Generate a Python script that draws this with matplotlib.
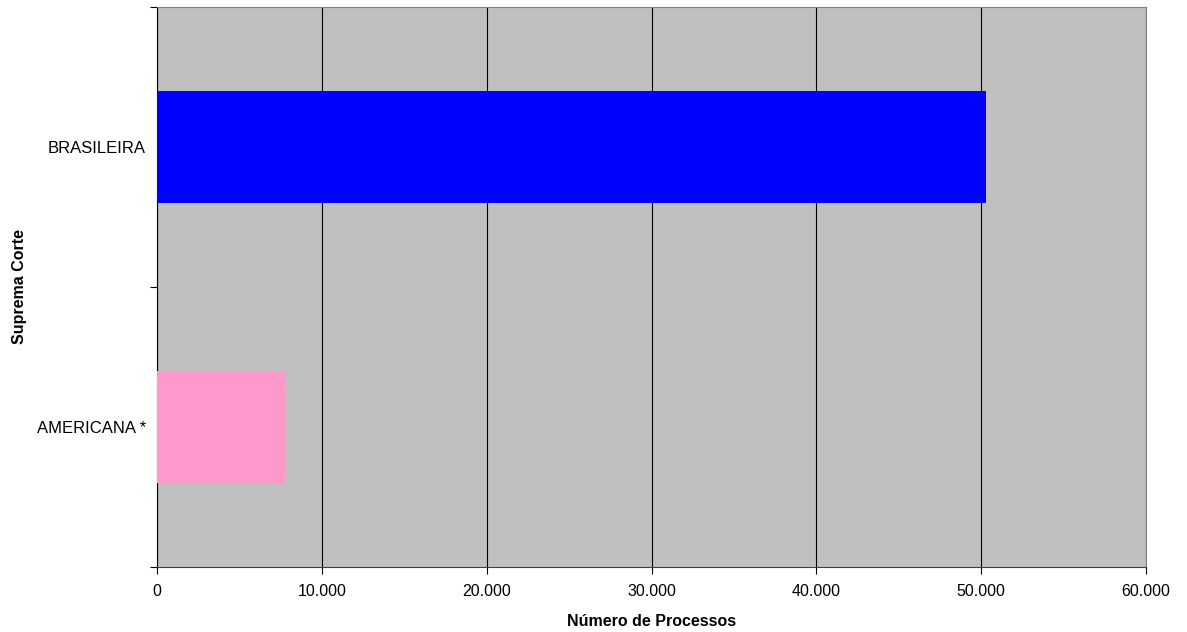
import matplotlib.pyplot as plt
from matplotlib.ticker import FuncFormatter, FixedLocator

plt.rcParams['font.family'] = ['Liberation Sans', 'DejaVu Sans']

# Supreme court case counts
cortes = ["AMERICANA *", "BRASILEIRA"]
processos = [7800, 50300]
cores = ["#FF99CC", "#0000FF"]

fig = plt.figure(figsize=(11.87, 6.32), dpi=100)
ax = fig.add_axes([157 / 1187, 1 - 567 / 632, 989 / 1187, 560 / 632])
ax.set_facecolor("#C0C0C0")

pos = list(range(len(cortes)))
ax.barh(pos, processos, height=0.4, color=cores, zorder=3)

ax.set_xlim(0, 60000)
ax.set_ylim(-0.5, len(cortes) - 0.5)
ax.set_xticks(range(0, 60001, 10000))
ax.xaxis.set_major_formatter(FuncFormatter(lambda v, p: f"{int(v):,}".replace(",", ".")))
ax.grid(axis="x", color="black", linewidth=0.8, zorder=1)

# category labels at bar centres, tick marks between categories
ax.set_yticks(pos)
ax.set_yticklabels(cortes)
ax.yaxis.set_minor_locator(FixedLocator([-0.5, 0.5, 1.5]))
ax.tick_params(axis="y", which="major", length=0, pad=8, labelsize=12)
ax.tick_params(axis="y", which="minor", length=5, width=0.8, direction="out")
ax.tick_params(axis="x", length=5, width=0.8, labelsize=11.5, pad=7)

for side in ["top", "right"]:
    ax.spines[side].set_color("#808080")
ax.spines["bottom"].set_color("#404040")
ax.spines["left"].set_color("black")

ax.set_xlabel("Número de Processos", fontsize=11.5, fontweight="bold", labelpad=11)
fig.text(20 / 1187, 1 - 287 / 632, "Suprema Corte", rotation=90, ha="center", va="center",
         fontsize=11.5, fontweight="bold")

fig.savefig("out.png", dpi=100)
